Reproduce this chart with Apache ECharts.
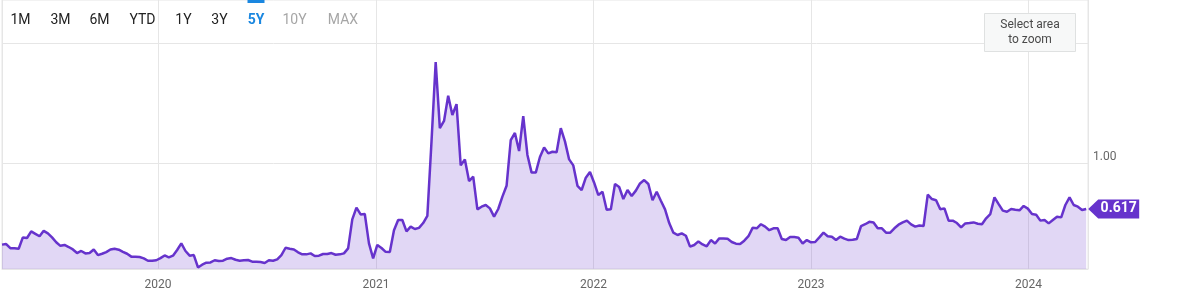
<!DOCTYPE html>
<html>
<head>
<meta charset="utf-8">
<script src="https://cdn.jsdelivr.net/npm/echarts@6/dist/echarts.min.js"></script>
<style>
html,body{margin:0;padding:0;background:#fff;}
#chart{width:1186px;height:296px;}
</style>
</head>
<body>
<div id="chart"></div>
<script>
// ---- data ----
const startDate = '2019-04-14';   // first weekly observation
const axisStart = '2019-04-14';
const axisEnd = '2024-04-10';
const values = [
  0.32, 0.325, 0.29, 0.29, 0.286, 0.38, 0.375, 0.43, 0.41, 0.39,
  0.435, 0.414, 0.38, 0.34, 0.31, 0.317, 0.30, 0.28, 0.25, 0.267,
  0.247, 0.25, 0.28, 0.233, 0.244, 0.258, 0.28, 0.286, 0.278, 0.26,
  0.244, 0.22, 0.22, 0.217, 0.206, 0.186, 0.186, 0.19, 0.208, 0.23,
  0.214, 0.228, 0.275, 0.33, 0.267, 0.228, 0.233,
  0.13, 0.153, 0.17, 0.172, 0.19, 0.183, 0.186, 0.203, 0.208, 0.194,
  0.186, 0.19, 0.192, 0.178, 0.178, 0.175, 0.167, 0.19, 0.186, 0.197,
  0.233, 0.294, 0.286, 0.28, 0.256, 0.239, 0.239, 0.247, 0.225, 0.228,
  0.242, 0.242, 0.25, 0.236, 0.239, 0.247, 0.289, 0.53, 0.628, 0.572,
  0.575, 0.33, 0.206, 0.317, 0.292, 0.26, 0.258,
  0.44, 0.525, 0.525, 0.43, 0.47, 0.45, 0.46, 0.50, 0.56, 1.18,
  1.84, 1.29, 1.35, 1.56, 1.40, 1.49, 0.98, 1.03, 0.85, 0.886,
  0.614, 0.636, 0.65, 0.622, 0.553,
  0.617, 0.72, 0.81, 1.19, 1.25, 1.10, 1.39, 1.067, 0.92, 0.92,
  1.05, 1.13, 1.08, 1.094, 1.09, 1.29, 1.18, 1.03, 0.98, 0.81,
  0.775, 0.878, 0.925, 0.836, 0.733,
  0.76, 0.61, 0.614, 0.825, 0.80, 0.70, 0.775, 0.725, 0.77, 0.83,
  0.858, 0.825, 0.69, 0.76, 0.686, 0.614, 0.50, 0.42, 0.40, 0.414,
  0.394, 0.303, 0.317, 0.347, 0.322, 0.306, 0.358, 0.33, 0.372, 0.372,
  0.369, 0.342, 0.328, 0.325, 0.353, 0.39, 0.46, 0.456, 0.49, 0.47,
  0.44, 0.456, 0.456, 0.367, 0.358, 0.383, 0.383,
  0.378, 0.33, 0.358, 0.339, 0.342, 0.38, 0.42, 0.39, 0.386, 0.358,
  0.386, 0.37, 0.358, 0.36, 0.367, 0.475, 0.49, 0.51, 0.505, 0.456,
  0.456, 0.42, 0.42, 0.456, 0.486, 0.505, 0.52, 0.489, 0.47, 0.48,
  0.475, 0.736, 0.70, 0.69, 0.614, 0.622, 0.52, 0.52, 0.50, 0.464,
  0.497, 0.50, 0.505, 0.494, 0.49, 0.539,
  0.575, 0.714, 0.658, 0.603, 0.594, 0.617, 0.611, 0.606, 0.642, 0.62,
  0.575, 0.569, 0.52, 0.525, 0.497, 0.525, 0.553, 0.547, 0.65, 0.714,
  0.65, 0.636, 0.608, 0.617
];
const yMin = 0.117;
const yMax = 2.358;
const yGridValues = [1, 2];
const yLabelValues = [1];
const rangeButtons = ['1M', '3M', '6M', 'YTD', '1Y', '3Y', '5Y', '10Y', 'MAX'];
const activeButton = '5Y';
const disabledButtons = ['10Y', 'MAX'];
const zoomButtonLines = ['Select area', 'to zoom'];

// ---- build ----
const DAY = 86400000;
const t0 = new Date(startDate + 'T00:00:00Z').getTime();
const seriesData = values.map((v, i) => [t0 + i * 7 * DAY, v]);
const last = seriesData[seriesData.length - 1];

const LINE = '#6633cc';
const FONT = 'Roboto, "Noto Sans", sans-serif';

const btnX = [20.5, 60.5, 99.5, 142.5, 183.5, 219.5, 256, 294.5, 343];
const graphics = [];
rangeButtons.forEach((b, i) => {
  const active = b === activeButton;
  const disabled = disabledButtons.includes(b);
  graphics.push({
    type: 'text', x: btnX[i], y: 20, z: 100,
    style: {
      text: b, align: 'center', verticalAlign: 'middle',
      font: (active ? 'bold ' : '') + '14px ' + FONT,
      fill: active ? '#1a87e0' : (disabled ? '#a6a6a6' : '#222222')
    }
  });
  if (active) {
    graphics.push({ type: 'rect', x: btnX[i] - 8.5, y: 0, z: 100,
      shape: { width: 17, height: 3 }, style: { fill: '#1a87e0' } });
  }
});
graphics.push({
  type: 'rect', x: 984.5, y: 13.5, z: 100,
  shape: { width: 91, height: 38 },
  style: { fill: '#f7f8f8', stroke: '#dfe1e1', lineWidth: 1 }
});
zoomButtonLines.forEach((t, i) => {
  graphics.push({
    type: 'text', x: 1030, y: 25 + i * 15, z: 101,
    style: { text: t, align: 'center', verticalAlign: 'middle',
      font: '12px ' + FONT, fill: '#4a4a4a' }
  });
});

const chart = echarts.init(document.getElementById('chart'), null, { renderer: 'canvas' });
chart.setOption({
  animation: false,
  backgroundColor: '#ffffff',
  grid: { left: 2, right: 98, top: 0, bottom: 27, show: true, borderColor: '#e6e6e6', borderWidth: 1 },
  xAxis: {
    type: 'time',
    min: new Date(axisStart + 'T00:00:00Z').getTime(),
    max: new Date(axisEnd + 'T00:00:00Z').getTime(),
    splitNumber: 5,
    minInterval: 360 * DAY,
    axisLine: { show: true, lineStyle: { color: '#e6e6e6' } },
    axisTick: { show: false },
    splitLine: { show: true, lineStyle: { color: '#e6e6e6', width: 1 } },
    axisLabel: {
      formatter: '{yyyy}', color: '#666666', fontSize: 12, fontFamily: FONT, margin: 10,
      showMinLabel: false, showMaxLabel: false
    }
  },
  yAxis: {
    type: 'value',
    position: 'right',
    min: yMin, max: yMax,
    axisLine: { show: false },
    axisTick: { show: false, customValues: yGridValues },
    splitLine: { show: true, lineStyle: { color: '#e6e6e6', width: 1 } },
    axisLabel: {
      customValues: yLabelValues,
      formatter: v => v.toFixed(2),
      color: '#666666', fontSize: 12, fontFamily: FONT,
      verticalAlign: 'bottom', margin: 5
    }
  },
  graphic: graphics,
  series: [{
    type: 'line',
    data: seriesData,
    showSymbol: false,
    lineStyle: { color: LINE, width: 2.5 },
    itemStyle: { color: LINE },
    areaStyle: { color: 'rgba(102,51,204,0.28)' },
    markPoint: {
      silent: true,
      symbol: 'path://M0,9.5 L10,0 L51,0 L51,19 L10,19 Z',
      symbolSize: [51, 19],
      symbolOffset: [27.5, 0],
      itemStyle: { color: LINE },
      label: {
        show: true, position: 'inside', offset: [5, 0],
        color: '#ffffff', fontWeight: 'bold', fontSize: 14, fontFamily: FONT,
        formatter: p => Number(p.value).toFixed(3)
      },
      data: [{ coord: last, value: last[1] }]
    }
  }]
});
</script>
</body>
</html>
